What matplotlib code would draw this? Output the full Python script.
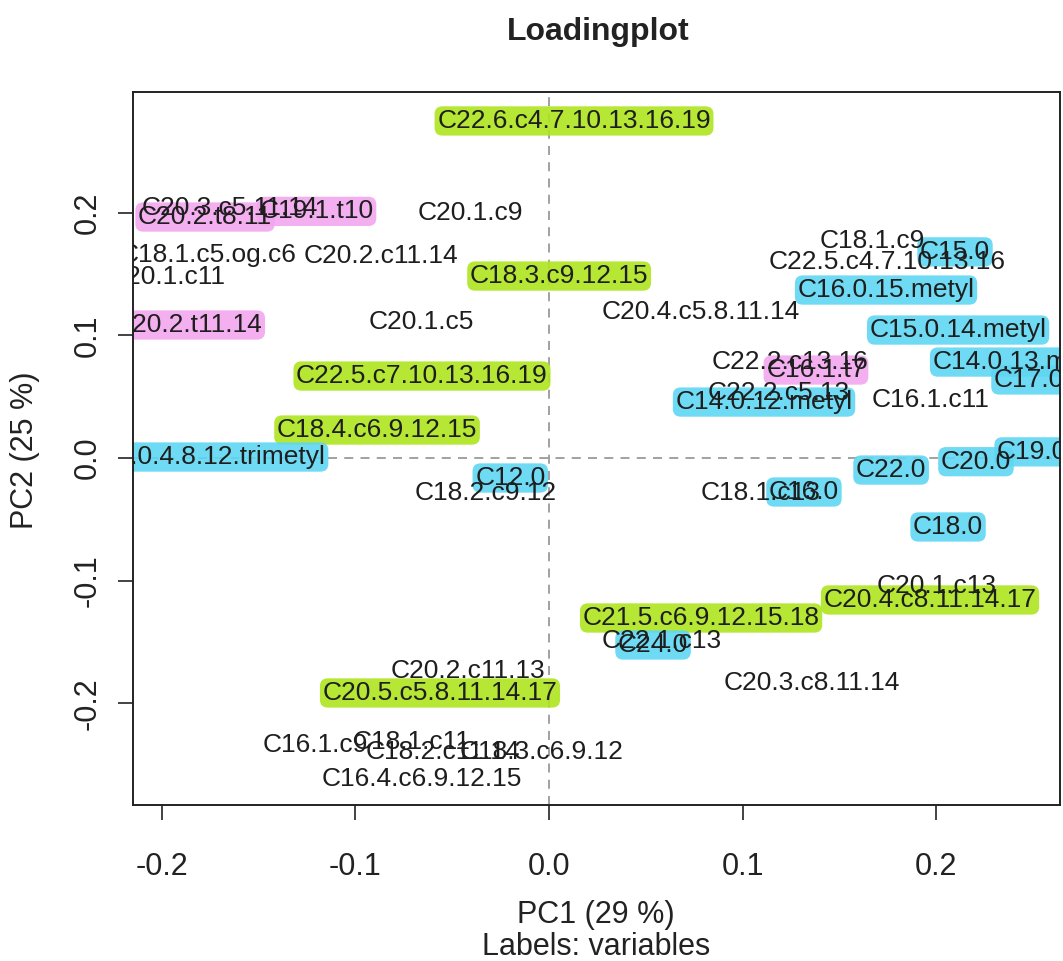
import matplotlib
matplotlib.use("Agg")
import matplotlib.pyplot as plt
from matplotlib import font_manager

# Variable names and their PCA loadings
variables = [
    "C22.6.c4.7.10.13.16.19", "C20.2.t8.11", "C20.3.c5.11.14", "C19.1.t10",
    "C20.1.c9", "C18.1.c5.og.c6", "C20.2.c11.14", "C20.1.c11",
    "C18.3.c9.12.15", "C20.2.t11.14", "C20.1.c5", "C20.4.c5.8.11.14",
    "C22.5.c7.10.13.16.19", "C18.4.c6.9.12.15", "C16.0.4.8.12.trimetyl",
    "C12.0", "C18.2.c9.12", "C18.1.c9", "C15.0", "C22.5.c4.7.10.13.16",
    "C16.0.15.metyl", "C15.0.14.metyl", "C22.2.c13.16", "C16.1.t7",
    "C14.0.13.metyl", "C17.0", "C22.2.c5.13", "C14.0.12.metyl", "C16.1.c11",
    "C18.1.c13", "C16.0", "C22.0", "C20.0", "C19.0", "C18.0", "C20.1.c13",
    "C20.4.c8.11.14.17", "C21.5.c6.9.12.15.18", "C22.1.c13", "C24.0",
    "C20.3.c8.11.14", "C20.2.c11.13", "C20.5.c5.8.11.14.17", "C16.1.c9",
    "C18.1.c11", "C18.2.c11.14", "C18.3.c6.9.12", "C16.4.c6.9.12.15",
]
pc1 = [
    0.0129, -0.1776, -0.1650, -0.1200,
    -0.0408, -0.1760, -0.0867, -0.1975,
    0.0052, -0.1864, -0.0660, 0.0785,
    -0.0656, -0.0888, -0.1780,
    -0.0200, -0.0325, 0.1668, 0.2096, 0.1745,
    0.1740, 0.2112, 0.1244, 0.1378,
    0.2437, 0.2478, 0.1187, 0.1110, 0.1972,
    0.1090, 0.1316, 0.1766, 0.2204, 0.2494, 0.2060, 0.2003,
    0.1967, 0.0785, 0.0584, 0.0537,
    0.1358, -0.0418, -0.0563, -0.1208,
    -0.0712, -0.0547, -0.0041, -0.0656,
]
pc2 = [
    0.2747, 0.1964, 0.2037, 0.2010,
    0.1997, 0.1654, 0.1646, 0.1475,
    0.1483, 0.1084, 0.1108, 0.1190,
    0.0668, 0.0228, 0.0008,
    -0.0163, -0.0285, 0.1769, 0.1680, 0.1597,
    0.1369, 0.1043, 0.0782, 0.0717,
    0.0782, 0.0636, 0.0530, 0.0456, 0.0473,
    -0.0285, -0.0277, -0.0098, -0.0030, 0.0050, -0.0562, -0.1043,
    -0.1157, -0.1304, -0.1490, -0.1524,
    -0.1834, -0.1736, -0.1915, -0.2339,
    -0.2315, -0.2396, -0.2396, -0.2616,
]
# Highlight group of each variable ("" = not highlighted)
groups = [
    "omega3", "trans", "", "trans",
    "", "", "", "",
    "omega3", "trans", "", "",
    "omega3", "omega3", "saturated",
    "saturated", "", "", "saturated", "",
    "saturated", "saturated", "", "trans",
    "saturated", "saturated", "", "saturated", "",
    "", "saturated", "saturated", "saturated", "saturated", "saturated", "",
    "omega3", "omega3", "", "saturated",
    "", "", "omega3", "",
    "", "", "", "",
]
pc1_var, pc2_var = 29, 25
x_ticks = [-0.2, -0.1, 0.0, 0.1, 0.2]
y_ticks = [-0.2, -0.1, 0.0, 0.1, 0.2]

marker_colors = {"omega3": "#aee51e", "trans": "#f2a6ee", "saturated": "#5fd6f2"}

installed = {f.name for f in font_manager.fontManager.ttflist}
label_font = "Liberation Sans" if "Liberation Sans" in installed else "DejaVu Sans"
narrow_font = "Liberation Sans Narrow" if "Liberation Sans Narrow" in installed else label_font

fig = plt.figure(figsize=(10.63, 9.61), dpi=100)
ax = fig.add_axes([133 / 1063, 1 - 805 / 961, (1060 - 133) / 1063, (805 - 92) / 961])
ax.set_xlim(-0.2148, 0.2638)
ax.set_ylim(-0.2828, 0.2983)

ax.axhline(0, color="#9a9a9a", lw=1.3, ls=(0, (5, 4)), zorder=0)
ax.axvline(0, color="#9a9a9a", lw=1.3, ls=(0, (5, 4)), zorder=0)

# Highlighter strokes underneath, then all labels on top
for name, x, y, g in zip(variables, pc1, pc2, groups):
    if g:
        ax.text(x, y, name, ha="center", va="center", fontsize=19,
                family=label_font, color="none", clip_on=True, zorder=1,
                bbox=dict(boxstyle="round,pad=0.1,rounding_size=0.3",
                          fc=marker_colors[g], ec="none", alpha=0.9))
for name, x, y in zip(variables, pc1, pc2):
    ax.text(x, y, name, ha="center", va="center", fontsize=19,
            family=label_font, color="#1e1e1e", clip_on=True, zorder=3)

ax.set_xticks(x_ticks)
ax.set_yticks(y_ticks)
ax.set_xticklabels([f"{v:.1f}" for v in x_ticks], family=narrow_font, fontsize=22)
ax.set_yticklabels([f"{v:.1f}" for v in y_ticks], family=narrow_font, fontsize=22,
                   rotation=90, va="center")
ax.tick_params(axis="x", length=11, width=1.2, pad=23, colors="#222222")
ax.tick_params(axis="y", length=11, width=1.2, pad=11, colors="#222222")
for s in ax.spines.values():
    s.set_linewidth(1.4)
    s.set_color("#222222")

fig.text(598 / 1063, 1 - 32 / 961, "Loadingplot", ha="center", va="center",
         fontsize=23, fontweight="bold", family=label_font, color="#222222")
fig.text(596 / 1063, 1 - 915 / 961, f"PC1 ({pc1_var} %)", ha="center", va="center",
         fontsize=22, family=narrow_font, color="#222222")
fig.text(596 / 1063, 1 - 947 / 961, "Labels: variables", ha="center", va="center",
         fontsize=22, family=narrow_font, color="#222222")
fig.text(25 / 1063, 1 - 450 / 961, f"PC2 ({pc2_var} %)", ha="center", va="center",
         rotation=90, fontsize=22, family=narrow_font, color="#222222")

fig.savefig("out.png", dpi=100, facecolor="white")
